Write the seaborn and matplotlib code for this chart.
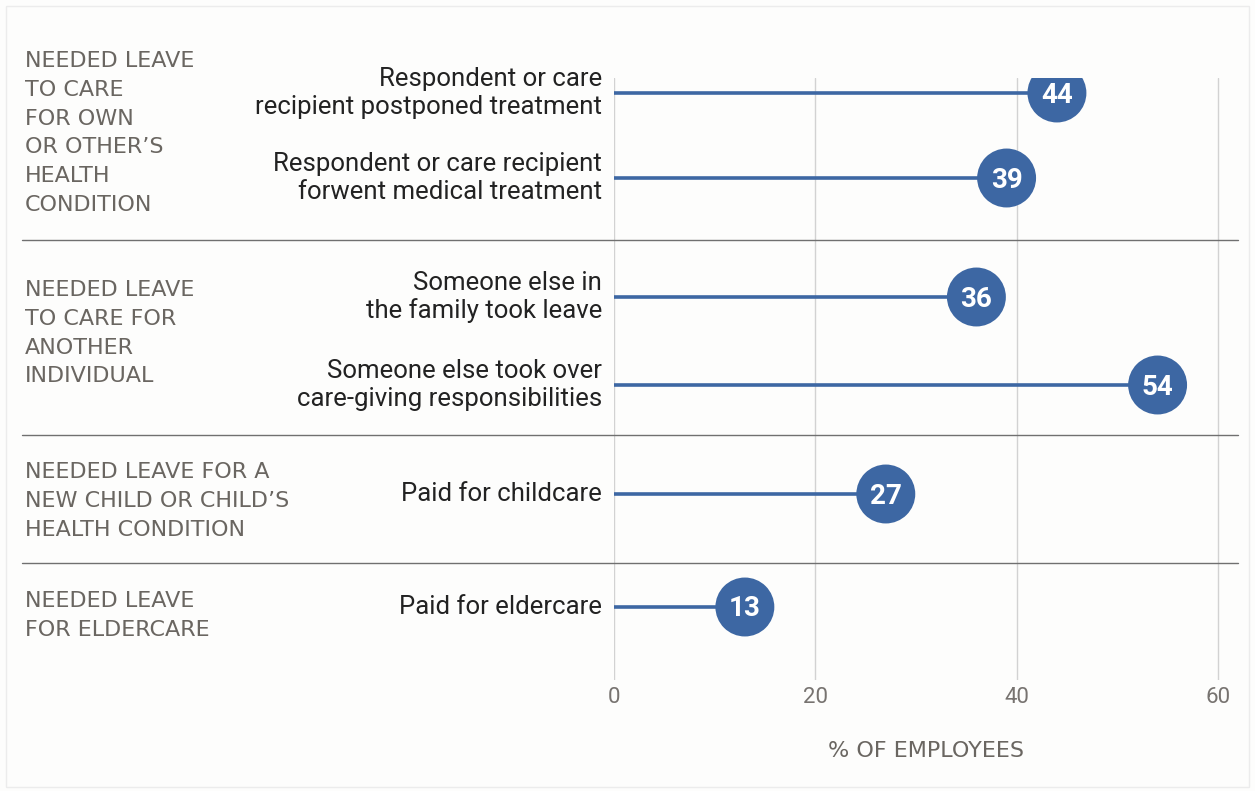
import matplotlib
matplotlib.use("Agg")
import matplotlib.pyplot as plt
import seaborn as sns
import pandas as pd

# ---- data ----
groups = [
    "NEEDED LEAVE\nTO CARE\nFOR OWN\nOR OTHER’S\nHEALTH\nCONDITION",
    "NEEDED LEAVE\nTO CARE FOR\nANOTHER\nINDIVIDUAL",
    "NEEDED LEAVE FOR A\nNEW CHILD OR CHILD’S\nHEALTH CONDITION",
    "NEEDED LEAVE\nFOR ELDERCARE",
]
items = [
    "Respondent or care\nrecipient postponed treatment",
    "Respondent or care recipient\nforwent medical treatment",
    "Someone else in\nthe family took leave",
    "Someone else took over\ncare-giving responsibilities",
    "Paid for childcare",
    "Paid for eldercare",
]
values = [44, 39, 36, 54, 27, 13]
x_ticks = [0, 20, 40, 60]
x_label = "% OF EMPLOYEES"

# ---- layout (pixel rows in figure space) ----
W, H = 1255, 791
row_y = [93, 178, 297, 385, 494, 607]
sep_y = [240, 435, 563]
group_top = [51, 280, 462, 591]

sns.set_theme(style="white")
plt.rcParams["font.family"] = ["Roboto", "DejaVu Sans"]

blue = "#3d67a3"
fig = plt.figure(figsize=(W / 100, H / 100), dpi=100, facecolor="#fdfdfc")
ax_l, ax_r, ax_t, ax_b = 614, 1238, 78, 680
ax = fig.add_axes([ax_l / W, 1 - ax_b / H, (ax_r - ax_l) / W, (ax_b - ax_t) / H])
ax.set_facecolor("none")

xmax = 60 + (ax_r - 1218) / ((1218 - ax_l) / 60)
ax.set_xlim(0, xmax)
ax.set_ylim(ax_b, ax_t)

df = pd.DataFrame({"item": items, "value": values, "y": row_y})

# gridlines
for t in x_ticks:
    ax.axvline(t, color="#d2d2d2", lw=1, zorder=0)

# stems
ax.hlines(df["y"], 0, df["value"], color=blue, lw=2.6, zorder=2)

# circles
sns.scatterplot(data=df, x="value", y="y", s=1800, color=blue, edgecolor="none",
                ax=ax, zorder=3, legend=False)
for v, y in zip(values, row_y):
    ax.text(v, y + 2, str(v), color="white", fontsize=20, fontweight="bold",
            ha="center", va="center", zorder=4)

# separators
xmin_frac = (22 - ax_l) / (ax_r - ax_l)
for s in sep_y:
    ax.axhline(s, xmin=xmin_frac, xmax=1, color="#707070", lw=1, clip_on=False)

# item labels
for lab, y in zip(items, row_y):
    fig.text(602 / W, 1 - y / H, lab, ha="right", va="center", fontsize=18.5,
             color="#222222", linespacing=1.17)

# group labels
for g, top in zip(groups, group_top):
    fig.text(25 / W, 1 - top / H, g, ha="left", va="top", fontsize=16,
             color="#6a6661", linespacing=1.55, family="DejaVu Sans")

# axis cosmetics
ax.set_xticks(x_ticks)
ax.set_xticklabels([str(t) for t in x_ticks], color="#777370", fontsize=16)
ax.tick_params(axis="x", length=0, pad=5)
ax.set_yticks([])
ax.set_xlabel(x_label, color="#6a6661", fontsize=16, labelpad=24,
              family="DejaVu Sans")
ax.set_ylabel("")
for sp in ax.spines.values():
    sp.set_visible(False)

# outer light frame
fig.add_artist(plt.Rectangle((6 / W, 4 / H), (W - 12) / W, (H - 10) / H,
                             transform=fig.transFigure, fill=False,
                             edgecolor="#ececec", lw=1))

fig.savefig("out.png", dpi=100, facecolor=fig.get_facecolor())
